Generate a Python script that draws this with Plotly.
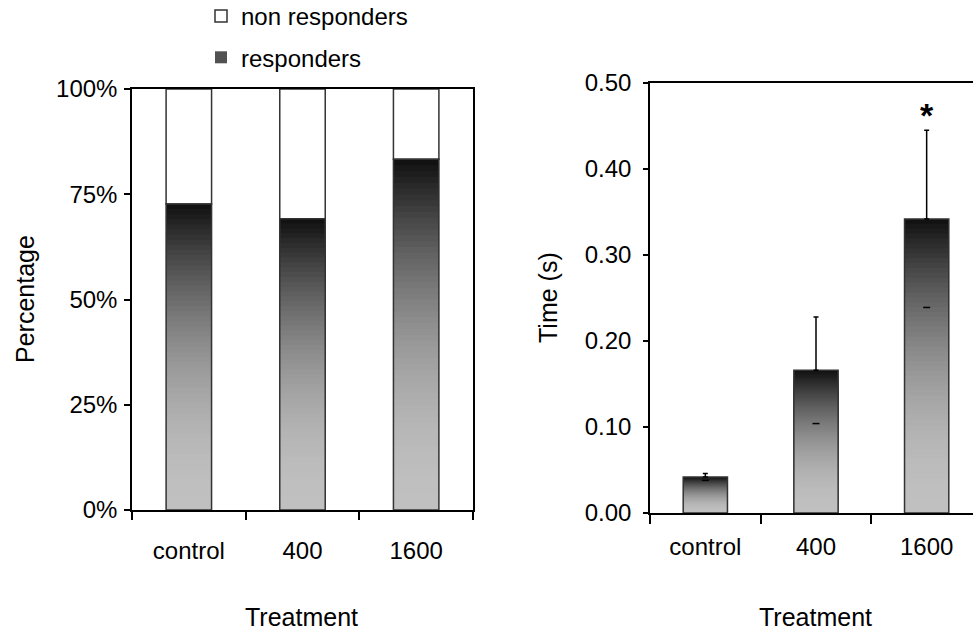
import plotly.graph_objects as go

# ---- data ----
categories = ["control", "400", "1600"]
responders_pct = [72.7, 69.2, 83.3]
time_mean = [0.042, 0.166, 0.342]
time_sem = [0.004, 0.062, 0.103]
pct_ticks = [0, 25, 50, 75, 100]
time_ticks = [0.0, 0.1, 0.2, 0.3, 0.4, 0.5]

N = 60
FONT = "Liberation Sans, Arial, sans-serif"
EDGE = "#333333"
FS = 24


def gray(f):
    g = int(round(192 - 177 * f ** 2))
    return f"rgb({g},{g},{g})"


fig = go.Figure()

nonresp = [100 - v for v in responders_pct]
fig.add_trace(go.Bar(
    x=categories, y=nonresp, base=responders_pct, width=0.4,
    marker=dict(color="white", line=dict(color=EDGE, width=1.5)),
    name="non responders", legendgroup="a", legendrank=1,
    xaxis="x", yaxis="y"))

for k in range(N, 0, -1):
    f = (k - 0.5) / N
    show = (k == int(N * 0.8))
    fig.add_trace(go.Bar(
        x=categories, y=[v * k / N for v in responders_pct], width=0.4,
        marker=dict(color=gray(f), line=dict(width=0)),
        name="responders", legendgroup="b", legendrank=2,
        showlegend=show, xaxis="x", yaxis="y", hoverinfo="skip"))
    fig.add_trace(go.Bar(
        x=categories, y=[v * k / N for v in time_mean], width=0.4,
        marker=dict(color=gray(f), line=dict(width=0)),
        showlegend=False, xaxis="x2", yaxis="y2", hoverinfo="skip"))

fig.add_trace(go.Bar(
    x=categories, y=responders_pct, width=0.4,
    marker=dict(color="rgba(0,0,0,0)", line=dict(color=EDGE, width=1.5)),
    showlegend=False, xaxis="x", yaxis="y"))
fig.add_trace(go.Bar(
    x=categories, y=time_mean, width=0.4,
    marker=dict(color="rgba(0,0,0,0)", line=dict(color=EDGE, width=1.5)),
    error_y=dict(type="data", array=time_sem,
                 arrayminus=[0] * len(time_sem), color="black",
                 thickness=1.5, width=2.5),
    showlegend=False, xaxis="x2", yaxis="y2"))
fig.add_trace(go.Scatter(
    x=categories, y=[m - s for m, s in zip(time_mean, time_sem)],
    mode="markers",
    marker=dict(symbol="line-ew", size=5, line=dict(color="black", width=1.5)),
    showlegend=False, xaxis="x2", yaxis="y2", hoverinfo="skip"))

axis_common = dict(showline=True, linecolor="black", linewidth=1.5,
                   ticks="outside", tickcolor="black", tickwidth=1.5,
                   showgrid=False, zeroline=False, automargin=False,
                   tickfont=dict(family=FONT, size=FS, color="black"))

star_idx = categories.index("1600")

fig.update_layout(
    width=973, height=630, autosize=False,
    margin=dict(l=0, r=0, t=0, b=0, pad=0, autoexpand=False),
    paper_bgcolor="white", plot_bgcolor="white",
    barmode="overlay", bargap=0.6,
    font=dict(family=FONT, color="black", size=FS),
    showlegend=True,
    legend=dict(x=201 / 973, xanchor="left", y=1 + 6 / 630, yanchor="top",
                font=dict(family=FONT, size=FS, color="black"),
                bgcolor="rgba(0,0,0,0)", tracegroupgap=7,
                traceorder="grouped"),
    xaxis=dict(axis_common, domain=[132 / 973, 473 / 973], anchor="y",
               type="category", range=[-0.5, 2.5], tickson="boundaries",
               ticklen=8, mirror=True, ticklabelstandoff=18),
    yaxis=dict(axis_common, domain=[1 - 510 / 630, 1 - 89 / 630], anchor="x",
               range=[0, 100], tickvals=pct_ticks,
               ticktext=[f"{v}%" for v in pct_ticks],
               ticklen=6, mirror=True, ticklabelstandoff=2),
    xaxis2=dict(axis_common, domain=[650 / 973, 1.0], anchor="y2",
                type="category", range=[-0.5, 2.5 - 9 / 110.7],
                tickson="boundaries", ticklen=9, mirror=True,
                ticklabelstandoff=11),
    yaxis2=dict(axis_common, domain=[1 - 513 / 630, 1 - 83 / 630], anchor="x2",
                range=[0, 0.5], tickvals=time_ticks, mirror=False,
                ticktext=[f"{v:.2f}" for v in time_ticks],
                ticklen=5, ticklabelstandoff=7),
    annotations=[
        dict(text="Percentage", x=25 / 973, y=1 - 299 / 630, xref="paper",
             yref="paper", textangle=-90, showarrow=False,
             xanchor="center", yanchor="middle",
             font=dict(family=FONT, size=25, color="black")),
        dict(text="Time (s)", x=548 / 973, y=1 - 298 / 630, xref="paper",
             yref="paper", textangle=-90, showarrow=False,
             xanchor="center", yanchor="middle",
             font=dict(family=FONT, size=25, color="black")),
        dict(text="Treatment", x=301 / 973, y=1 - 617 / 630, xref="paper",
             yref="paper", showarrow=False, xanchor="center",
             yanchor="middle", font=dict(family=FONT, size=25, color="black")),
        dict(text="Treatment", x=815 / 973, y=1 - 617 / 630, xref="paper",
             yref="paper", showarrow=False, xanchor="center",
             yanchor="middle", font=dict(family=FONT, size=25, color="black")),
        dict(text="<b>*</b>", x=star_idx,
             y=time_mean[star_idx] + time_sem[star_idx], xref="x2", yref="y2",
             showarrow=False, xanchor="center", yanchor="bottom", yshift=-6,
             font=dict(family=FONT, size=34, color="black")),
    ],
)

fig.write_html("out.html",
               config={"displayModeBar": False},
               post_script="document.body.style.margin='0px';"
                           "document.body.style.overflow='hidden';")
